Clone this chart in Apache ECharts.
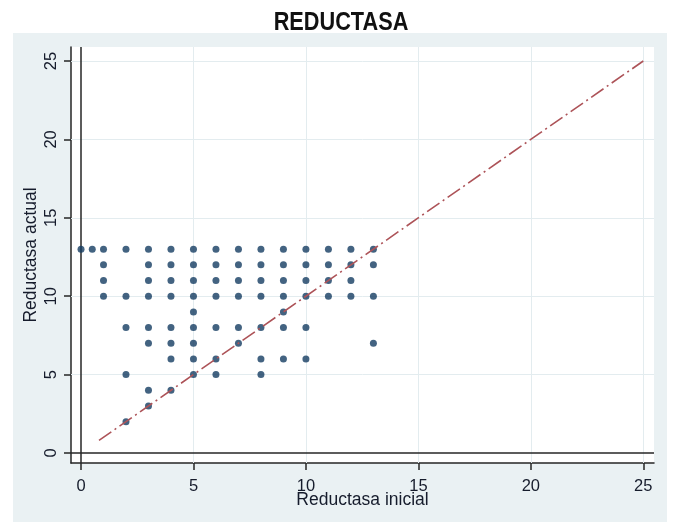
<!DOCTYPE html>
<html>
<head>
<meta charset="utf-8">
<script src="https://cdn.jsdelivr.net/npm/echarts@6/dist/echarts.min.js"></script>
<style>
html,body{margin:0;padding:0;background:#fff;}
#c{width:673px;height:522px;}
</style>
</head>
<body>
<div id="c"></div>
<script>
// Data
var titleText = 'REDUCTASA';
var xName = 'Reductasa inicial';
var yName = 'Reductasa actual';
var tickValues = [0, 5, 10, 15, 20, 25];
var gridValues = [5, 10, 15, 20, 25];
var xs = [0,0.5,1,2,3,4,5,6,7,8,9,10,11,12,13,
          1,3,4,5,6,7,8,9,10,11,12,13,
          1,3,4,5,6,7,8,9,10,11,12,
          1,2,3,4,5,6,7,8,9,10,11,12,13,
          5,9,
          2,3,4,5,6,7,8,9,10,
          3,4,5,7,13,
          4,5,6,8,9,10,
          2,5,6,8,
          3,4,
          3,
          2];
var ys = [13,13,13,13,13,13,13,13,13,13,13,13,13,13,13,
          12,12,12,12,12,12,12,12,12,12,12,12,
          11,11,11,11,11,11,11,11,11,11,11,
          10,10,10,10,10,10,10,10,10,10,10,10,10,
          9,9,
          8,8,8,8,8,8,8,8,8,
          7,7,7,7,7,
          6,6,6,6,6,6,
          5,5,5,5,
          4,4,
          3,
          2];
var diagX = [0.8, 25];
var diagY = [0.8, 25];

var points = xs.map(function(x, i){ return [x, ys[i]]; });
var diag = diagX.map(function(x, i){ return [x, diagY[i]]; });

var gridLineStyle = {color:'#e3ecef', width:1, type:'solid'};
var zeroLineStyle = {color:'#262626', width:1.5, type:'solid'};
var markData = [];
gridValues.forEach(function(v){ markData.push({xAxis:v, lineStyle:gridLineStyle}); });
gridValues.forEach(function(v){ markData.push({yAxis:v, lineStyle:gridLineStyle}); });
markData.push({xAxis:0, lineStyle:zeroLineStyle});
markData.push({yAxis:0, lineStyle:zeroLineStyle});

var labelFont = {fontFamily:'Liberation Sans, Arial, sans-serif', fontSize:16.5, color:'#161c2c'};
var axisLineStyle = {color:'#262626', width:1.5};

var chart = echarts.init(document.getElementById('c'), null, {renderer:'canvas'});
chart.setOption({
  animation:false,
  backgroundColor:'#ffffff',
  graphic:[
    {type:'rect', z:-10, silent:true, shape:{x:13, y:33, width:654, height:489}, style:{fill:'#eaf1f3'}},
    {type:'text', z:10, silent:true, x:341, y:23, scaleX:0.835, style:{text:titleText, fill:'#111111', font:'bold 26px "Liberation Sans", Arial, sans-serif', textAlign:'center', textVerticalAlign:'middle'}}
  ],
  grid:{left:71, top:47, right:19, bottom:59, show:true, backgroundColor:'#ffffff', borderWidth:0},
  xAxis:{
    type:'value', min:-0.445, max:25.476,
    name:xName, nameLocation:'middle', nameGap:28, nameMoveOverlap:false,
    nameTextStyle:{fontFamily:'Liberation Sans, Arial, sans-serif', fontSize:17.5, color:'#161c2c'},
    axisLine:{show:true, onZero:false, lineStyle:axisLineStyle},
    axisTick:{show:true, length:7, customValues:tickValues, lineStyle:axisLineStyle},
    axisLabel:Object.assign({customValues:tickValues, margin:15}, labelFont),
    splitLine:{show:false}
  },
  yAxis:{
    type:'value', min:-0.638, max:25.893,
    name:yName, nameLocation:'middle', nameGap:31, nameMoveOverlap:false,
    nameTextStyle:{fontFamily:'Liberation Sans, Arial, sans-serif', fontSize:17.5, color:'#161c2c'},
    axisLine:{show:true, onZero:false, lineStyle:axisLineStyle},
    axisTick:{show:true, length:7, customValues:tickValues, lineStyle:axisLineStyle},
    axisLabel:Object.assign({customValues:tickValues, margin:11, rotate:90}, labelFont),
    splitLine:{show:false}
  },
  series:[
    {
      type:'scatter', data:points, symbol:'circle', symbolSize:7,
      itemStyle:{color:'#143c62'}, z:3,
      markLine:{silent:true, symbol:['none','none'], label:{show:false}, animation:false, data:markData, z:1}
    },
    {
      type:'line', data:diag, symbol:'none', z:4,
      lineStyle:{color:'#ad5358', width:1.6, type:[15,4,2,4]}
    }
  ]
});
</script>
</body>
</html>
